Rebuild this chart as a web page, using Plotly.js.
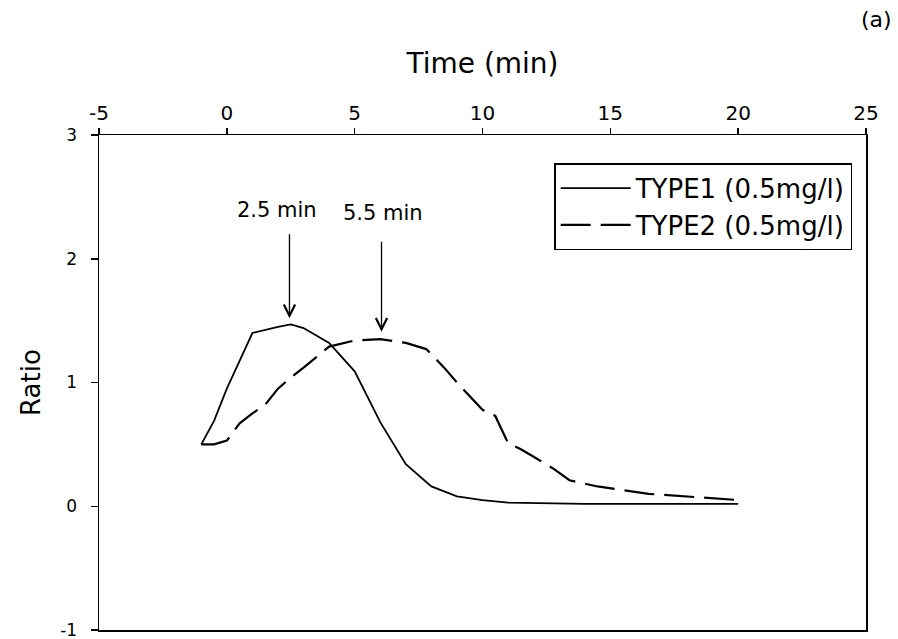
<!DOCTYPE html>
<html>
<head>
<meta charset="utf-8">
<script src="https://cdn.plot.ly/plotly-3.0.1.min.js"></script>
<style>html,body{margin:0;padding:0;background:#fff;}#chart{width:898px;height:639px;}</style>
</head>
<body>
<div id="chart"></div>
<script>
// TYPE1 (solid)
var type1X = [-1, -0.5, 0, 1, 2, 2.5, 3, 4, 5, 6, 7, 8, 9, 10, 11, 12, 13, 14, 20];
var type1Y = [0.5, 0.69, 0.95, 1.40, 1.45, 1.47, 1.44, 1.32, 1.09, 0.68, 0.34, 0.16, 0.08, 0.05, 0.03, 0.025, 0.02, 0.02, 0.02];
// TYPE2 (dashed)
var type2X = [-1, -0.5, 0, 0.5, 1, 1.5, 2, 2.5, 3, 4, 5, 6, 7, 7.8, 8.5, 9, 10, 10.5, 11, 11.5, 12, 12.8, 13.4, 14.5, 16.5, 18, 20];
var type2Y = [0.5, 0.5, 0.53, 0.67, 0.75, 0.82, 0.95, 1.04, 1.12, 1.29, 1.34, 1.35, 1.32, 1.27, 1.12, 1.0, 0.78, 0.73, 0.51, 0.46, 0.40, 0.30, 0.21, 0.16, 0.10, 0.08, 0.05];
var seriesNames = ['TYPE1 (0.5mg/l)', 'TYPE2 (0.5mg/l)'];
var xTicks = [-5, 0, 5, 10, 15, 20, 25];
var yTicks = [-1, 0, 1, 2, 3];
// annotations: label, arrow x, arrow tip y, arrow tail y, label x, label y
var markLabels = ['2.5 min', '5.5 min'];
var markArrowX = [2.45, 6.05];
var markTipY = [1.52, 1.41];
var markTailY = [2.21, 2.15];
var markLabelX = [1.95, 6.1];
var markLabelY = [2.39, 2.37];

var FONT = 'DejaVu Sans, Arial, sans-serif';

var traces = [
  {x: type1X, y: type1Y, name: seriesNames[0], mode: 'lines', type: 'scatter',
   line: {color: '#000', width: 1.8}},
  {x: type2X, y: type2Y, name: seriesNames[1], mode: 'lines', type: 'scatter',
   line: {color: '#000', width: 2.2, dash: '30px,10px'}}
];

var annotations = [];
for (var i = 0; i < markLabels.length; i++) {
  annotations.push({x: markLabelX[i], y: markLabelY[i], xref: 'x', yref: 'y', text: markLabels[i],
    showarrow: false, font: {family: FONT, size: 21, color: '#000'}});
  annotations.push({x: markArrowX[i], y: markTipY[i], ax: markArrowX[i], ay: markTailY[i],
    xref: 'x', yref: 'y', axref: 'x', ayref: 'y', text: '', showarrow: true,
    arrowhead: 5, arrowsize: 1.7, arrowwidth: 1.3, arrowcolor: '#000'});
}
annotations.push({x: (876 - 99) / 767, y: (630 - 19) / 495, xref: 'paper', yref: 'paper', text: '(a)',
  showarrow: false, xanchor: 'center', yanchor: 'middle',
  font: {family: FONT, size: 22, color: '#000'}});

var layout = {
  width: 898, height: 639,
  margin: {l: 99, r: 32, t: 135, b: 9},
  paper_bgcolor: '#fff', plot_bgcolor: '#fff',
  font: {family: FONT, color: '#000'},
  showlegend: true,
  legend: {x: 0.982, y: 0.943, xanchor: 'right', yanchor: 'top',
    bordercolor: '#000', borderwidth: 1.5, bgcolor: '#fff',
    font: {family: FONT, size: 26, color: '#000'}, itemwidth: 70},
  xaxis: {side: 'top', range: [-5, 25], tickvals: xTicks, ticktext: xTicks.map(String),
    ticks: 'outside', ticklen: 6, tickwidth: 1.5, tickcolor: '#000',
    showline: true, linecolor: '#000', linewidth: 1.5, mirror: true,
    showgrid: false, zeroline: false, ticklabelstandoff: 0, ticklabeloverflow: 'allow',
    tickfont: {family: FONT, size: 20, color: '#000'},
    title: {text: 'Time (min)', font: {family: FONT, size: 28, color: '#000'}, standoff: 18}},
  yaxis: {range: [-1, 3], tickvals: yTicks, ticktext: yTicks.map(String),
    ticks: 'outside', ticklen: 7, tickwidth: 1.5, tickcolor: '#000',
    showline: true, linecolor: '#000', linewidth: 1.5, mirror: true,
    showgrid: false, zeroline: false, ticklabelstandoff: 10, ticklabeloverflow: 'allow',
    tickfont: {family: FONT, size: 17, color: '#000'},
    title: {text: 'Ratio', font: {family: FONT, size: 26, color: '#000'}, standoff: 12}},
  annotations: annotations
};

Plotly.newPlot('chart', traces, layout, {displayModeBar: false, staticPlot: true});
</script>
</body>
</html>
